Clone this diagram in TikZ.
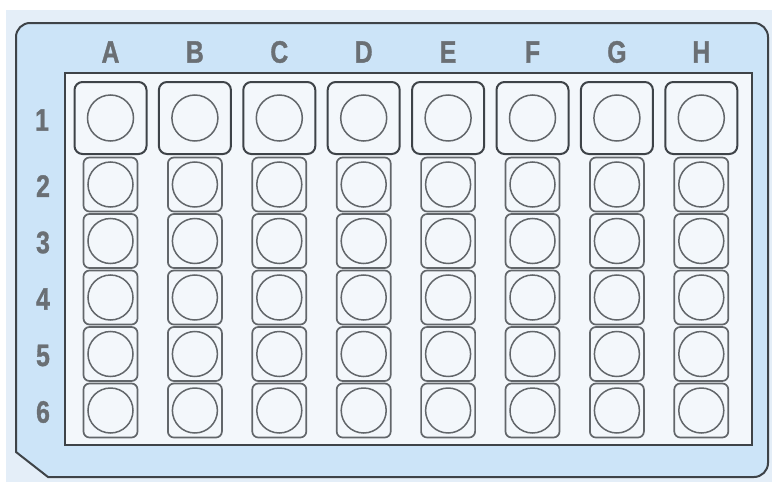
\documentclass[tikz,border=0pt]{standalone}
\usepackage{fontspec}
\setmainfont{Liberation Sans}
\newfontfamily\platefont{Liberation Sans Bold}[FakeBold=1.2]
\usepackage{tikz}
\usetikzlibrary{positioning,calc}
\definecolor{pagebg}{HTML}{E4EEF8}
\definecolor{platefill}{HTML}{CCE4F8}
\definecolor{wellfill}{HTML}{F3F7FB}
\definecolor{edgegray}{HTML}{3E4348}
\definecolor{ringgray}{HTML}{62666A}
\definecolor{labelgray}{HTML}{6A6F74}

\begin{document}
\begin{tikzpicture}[x=1pt, y=-1pt,
  every node/.style={inner sep=0pt, outer sep=0pt},
  plate/.style={draw=edgegray, line width=2pt, fill=platefill},
  bigwell/.style={draw=edgegray, line width=2pt, rounded corners=8pt, fill=wellfill, minimum width=72pt, minimum height=72pt},
  smallwell/.style={draw=ringgray, line width=1.7pt, rounded corners=6pt, fill=wellfill, minimum width=54pt, minimum height=54pt},
  ring/.style={draw=ringgray, line width=1.5pt, circle, minimum size=45pt},
  lbl/.style={text=labelgray, font=\platefont\fontsize{31}{31}\selectfont, xscale=0.8}]
  \useasboundingbox (0,0) rectangle (772,482);
  \fill[white] (0,0) rectangle (772,482);
  \fill[pagebg] (6,10) rectangle (772,482);

  % plate outline with cut corner
  \draw[plate] (16,452) [rounded corners=14pt]-- (16,23) -- (768,23) -- (768,477) [sharp corners]-- (48,477) -- cycle;
  \draw[draw=edgegray, line width=1.2pt, fill=wellfill] (65,73) rectangle (752,445);

  % columns and rows
  \foreach \c [count=\i from 0] in {A,B,C,D,E,F,G,H} {
    \node[lbl] (col-\c) at (110.5+84.4*\i, 52) {\c};
    \node[bigwell] (w-\c-1) at (110.5+84.4*\i, 118) {};
    \node[ring, minimum size=46pt] (r-\c-1) at (w-\c-1.center) {};
    \foreach \r [count=\k from 0] in {2,...,6} {
      \node[smallwell] (w-\c-\r) at (110.5+84.4*\i, 184.5+56.5*\k) {};
      \node[ring] (r-\c-\r) at (w-\c-\r.center) {};
    }
  }
  \node[lbl] (row-1) at (42, 120) {1};
  \foreach \r [count=\k from 0] in {2,...,6}
    \node[lbl] (row-\r) at (43, 186+56.5*\k) {\r};
\end{tikzpicture}
\end{document}
